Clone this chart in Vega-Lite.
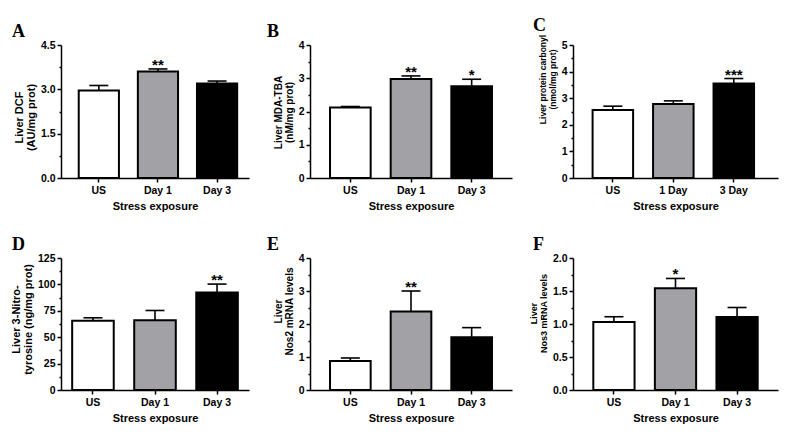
{
  "$schema": "https://vega.github.io/schema/vega-lite/v6.json",
  "padding": {"left": 10, "top": 17, "right": 5, "bottom": 5},
  "background": "white",
  "data": {"values": [
    {"panel": "A", "group": "US", "mean": 2.96, "upper": 3.13, "star": ""},
    {"panel": "A", "group": "Day 1", "mean": 3.60, "upper": 3.69, "star": "**"},
    {"panel": "A", "group": "Day 3", "mean": 3.20, "upper": 3.28, "star": ""},
    {"panel": "B", "group": "US", "mean": 2.12, "upper": 2.15, "star": ""},
    {"panel": "B", "group": "Day 1", "mean": 2.98, "upper": 3.07, "star": "**"},
    {"panel": "B", "group": "Day 3", "mean": 2.76, "upper": 2.97, "star": "*"},
    {"panel": "C", "group": "US", "mean": 2.56, "upper": 2.70, "star": ""},
    {"panel": "C", "group": "1 Day", "mean": 2.78, "upper": 2.90, "star": ""},
    {"panel": "C", "group": "3 Day", "mean": 3.55, "upper": 3.74, "star": "***"},
    {"panel": "D", "group": "US", "mean": 65.5, "upper": 68.4, "star": ""},
    {"panel": "D", "group": "Day 1", "mean": 66.1, "upper": 75.3, "star": ""},
    {"panel": "D", "group": "Day 3", "mean": 92.4, "upper": 100.3, "star": "**"},
    {"panel": "E", "group": "US", "mean": 0.88, "upper": 0.97, "star": ""},
    {"panel": "E", "group": "Day 1", "mean": 2.38, "upper": 3.00, "star": "**"},
    {"panel": "E", "group": "Day 3", "mean": 1.60, "upper": 1.89, "star": ""},
    {"panel": "F", "group": "US", "mean": 1.03, "upper": 1.11, "star": ""},
    {"panel": "F", "group": "Day 1", "mean": 1.54, "upper": 1.69, "star": "*"},
    {"panel": "F", "group": "Day 3", "mean": 1.105, "upper": 1.25, "star": ""}
  ]},
  "bounds": "flush",
  "align": "each",
  "columns": 3,
  "spacing": {"row": 80, "column": 61},
  "concat": [
    {
      "width": 188, "height": 133,
      "title": {"text": "A", "dx": -49, "offset": -1},
      "transform": [{"filter": "datum.panel == 'A'"}],
      "resolve": {"axis": {"y": "independent"}},
      "encoding": {"x": {"field": "group", "type": "nominal", "sort": ["US", "Day 1", "Day 3"], "scale": {"paddingInner": 0.32, "paddingOuter": 0.25, "align": 0.6}, "axis": {"title": "Stress exposure"}}},
      "layer": [
        {"mark": {"type": "bar", "stroke": "black", "strokeWidth": 2}, "encoding": {
          "y": {"field": "mean", "type": "quantitative", "scale": {"domain": [0, 4.5], "nice": false}, "axis": {"title": ["Liver DCF", "(AU/mg prot)"], "titleFontSize": 11, "titleLineHeight": 11.5, "titleY": 72, "orient": "left", "values": [0, 1.5, 3, 4.5], "format": ".1f"}},
          "fill": {"field": "group", "type": "nominal", "scale": {"domain": ["US", "Day 1", "Day 3", "1 Day", "3 Day"], "range": ["white", "#a2a2a6", "black", "#a2a2a6", "black"]}, "legend": null}}},
        {"mark": {"type": "rule", "strokeWidth": 1.6, "color": "black"}, "encoding": {"y": {"field": "mean", "type": "quantitative", "axis": {"orient": "left", "title": null, "labels": false, "domain": false, "tickSize": 2, "values": [0.75, 2.25, 3.75]}}, "y2": {"field": "upper"}}},
        {"mark": {"type": "tick", "thickness": 1.6, "size": 19, "color": "black", "opacity": 1}, "encoding": {"y": {"field": "upper", "type": "quantitative", "axis": null}}},
        {"mark": {"type": "text", "fontSize": 15, "fontWeight": "bold", "baseline": "alphabetic", "dy": 1, "color": "black"}, "encoding": {"y": {"field": "upper", "type": "quantitative", "axis": null}, "text": {"field": "star"}}}
      ]
    },
    {
      "width": 202, "height": 133,
      "title": {"text": "B", "dx": -43, "offset": -1},
      "transform": [{"filter": "datum.panel == 'B'"}],
      "resolve": {"axis": {"y": "independent"}},
      "encoding": {"x": {"field": "group", "type": "nominal", "sort": ["US", "Day 1", "Day 3"], "scale": {"paddingInner": 0.33, "paddingOuter": 0.33}, "axis": {"title": "Stress exposure"}}},
      "layer": [
        {"mark": {"type": "bar", "stroke": "black", "strokeWidth": 2}, "encoding": {
          "y": {"field": "mean", "type": "quantitative", "scale": {"domain": [0, 4], "nice": false}, "axis": {"title": ["Liver MDA-TBA", "(nM/mg prot)"], "titleFontSize": 10, "titleLineHeight": 11, "titleY": 67, "orient": "left", "values": [0, 1, 2, 3, 4], "format": "d"}},
          "fill": {"field": "group", "type": "nominal", "scale": {"domain": ["US", "Day 1", "Day 3", "1 Day", "3 Day"], "range": ["white", "#a2a2a6", "black", "#a2a2a6", "black"]}, "legend": null}}},
        {"mark": {"type": "rule", "strokeWidth": 1.6, "color": "black"}, "encoding": {"y": {"field": "mean", "type": "quantitative", "axis": {"orient": "left", "title": null, "labels": false, "domain": false, "tickSize": 2, "values": [0.5, 1.5, 2.5, 3.5]}}, "y2": {"field": "upper"}}},
        {"mark": {"type": "tick", "thickness": 1.6, "size": 19, "color": "black", "opacity": 1}, "encoding": {"y": {"field": "upper", "type": "quantitative", "axis": null}}},
        {"mark": {"type": "text", "fontSize": 15, "fontWeight": "bold", "baseline": "alphabetic", "dy": 1, "color": "black"}, "encoding": {"y": {"field": "upper", "type": "quantitative", "axis": null}, "text": {"field": "star"}}}
      ]
    },
    {
      "width": 205, "height": 133,
      "title": {"text": "C", "dx": -40, "offset": -1},
      "transform": [{"filter": "datum.panel == 'C'"}],
      "resolve": {"axis": {"y": "independent"}},
      "encoding": {"x": {"field": "group", "type": "nominal", "sort": ["US", "1 Day", "3 Day"], "scale": {"paddingInner": 0.33, "paddingOuter": 0.36, "align": 0.45}, "axis": {"title": "Stress exposure"}}},
      "layer": [
        {"mark": {"type": "bar", "stroke": "black", "strokeWidth": 2}, "encoding": {
          "y": {"field": "mean", "type": "quantitative", "scale": {"domain": [0, 5], "nice": false}, "axis": {"title": ["Liver protein carbonyl", "(nmol/mg prot)"], "titleFontSize": 8.5, "titleLineHeight": 10, "titleY": 34, "orient": "left", "values": [0, 1, 2, 3, 4, 5], "format": "d"}},
          "fill": {"field": "group", "type": "nominal", "scale": {"domain": ["US", "Day 1", "Day 3", "1 Day", "3 Day"], "range": ["white", "#a2a2a6", "black", "#a2a2a6", "black"]}, "legend": null}}},
        {"mark": {"type": "rule", "strokeWidth": 1.6, "color": "black"}, "encoding": {"y": {"field": "mean", "type": "quantitative", "axis": {"orient": "left", "title": null, "labels": false, "domain": false, "tickSize": 2, "values": [0.5, 1.5, 2.5, 3.5, 4.5]}}, "y2": {"field": "upper"}}},
        {"mark": {"type": "tick", "thickness": 1.6, "size": 19, "color": "black", "opacity": 1}, "encoding": {"y": {"field": "upper", "type": "quantitative", "axis": null}}},
        {"mark": {"type": "text", "fontSize": 15, "fontWeight": "bold", "baseline": "alphabetic", "dy": 1, "color": "black"}, "encoding": {"y": {"field": "upper", "type": "quantitative", "axis": null}, "text": {"field": "star"}}}
      ]
    },
    {
      "width": 188, "height": 132,
      "title": {"text": "D", "dx": -49, "offset": -1},
      "transform": [{"filter": "datum.panel == 'D'"}],
      "resolve": {"axis": {"y": "independent"}},
      "encoding": {"x": {"field": "group", "type": "nominal", "sort": ["US", "Day 1", "Day 3"], "scale": {"paddingInner": 0.33, "paddingOuter": 0.18}, "axis": {"title": "Stress exposure"}}},
      "layer": [
        {"mark": {"type": "bar", "stroke": "black", "strokeWidth": 2}, "encoding": {
          "y": {"field": "mean", "type": "quantitative", "scale": {"domain": [0, 125], "nice": false}, "axis": {"title": ["Liver 3-Nitro-", "tyrosine (ng/mg prot)"], "titleFontSize": 11, "titleLineHeight": 11.5, "titleY": 61, "orient": "left", "values": [0, 25, 50, 75, 100, 125], "format": "d"}},
          "fill": {"field": "group", "type": "nominal", "scale": {"domain": ["US", "Day 1", "Day 3", "1 Day", "3 Day"], "range": ["white", "#a2a2a6", "black", "#a2a2a6", "black"]}, "legend": null}}},
        {"mark": {"type": "rule", "strokeWidth": 1.6, "color": "black"}, "encoding": {"y": {"field": "mean", "type": "quantitative", "axis": {"orient": "left", "title": null, "labels": false, "domain": false, "tickSize": 2, "values": [12.5, 37.5, 62.5, 87.5, 112.5]}}, "y2": {"field": "upper"}}},
        {"mark": {"type": "tick", "thickness": 1.6, "size": 19, "color": "black", "opacity": 1}, "encoding": {"y": {"field": "upper", "type": "quantitative", "axis": null}}},
        {"mark": {"type": "text", "fontSize": 15, "fontWeight": "bold", "baseline": "alphabetic", "dy": 1, "color": "black"}, "encoding": {"y": {"field": "upper", "type": "quantitative", "axis": null}, "text": {"field": "star"}}}
      ]
    },
    {
      "width": 202, "height": 132,
      "title": {"text": "E", "dx": -43, "offset": -1},
      "transform": [{"filter": "datum.panel == 'E'"}],
      "resolve": {"axis": {"y": "independent"}},
      "encoding": {"x": {"field": "group", "type": "nominal", "sort": ["US", "Day 1", "Day 3"], "scale": {"paddingInner": 0.33, "paddingOuter": 0.33}, "axis": {"title": "Stress exposure"}}},
      "layer": [
        {"mark": {"type": "bar", "stroke": "black", "strokeWidth": 2}, "encoding": {
          "y": {"field": "mean", "type": "quantitative", "scale": {"domain": [0, 4], "nice": false}, "axis": {"title": ["Liver", "Nos2 mRNA levels"], "titleFontSize": 10, "titleLineHeight": 11, "titleY": 53, "orient": "left", "values": [0, 1, 2, 3, 4], "format": "d"}},
          "fill": {"field": "group", "type": "nominal", "scale": {"domain": ["US", "Day 1", "Day 3", "1 Day", "3 Day"], "range": ["white", "#a2a2a6", "black", "#a2a2a6", "black"]}, "legend": null}}},
        {"mark": {"type": "rule", "strokeWidth": 1.6, "color": "black"}, "encoding": {"y": {"field": "mean", "type": "quantitative", "axis": {"orient": "left", "title": null, "labels": false, "domain": false, "tickSize": 2, "values": [0.5, 1.5, 2.5, 3.5]}}, "y2": {"field": "upper"}}},
        {"mark": {"type": "tick", "thickness": 1.6, "size": 19, "color": "black", "opacity": 1}, "encoding": {"y": {"field": "upper", "type": "quantitative", "axis": null}}},
        {"mark": {"type": "text", "fontSize": 15, "fontWeight": "bold", "baseline": "alphabetic", "dy": 1, "color": "black"}, "encoding": {"y": {"field": "upper", "type": "quantitative", "axis": null}, "text": {"field": "star"}}}
      ]
    },
    {
      "width": 205, "height": 132,
      "title": {"text": "F", "dx": -40, "offset": -1},
      "transform": [{"filter": "datum.panel == 'F'"}],
      "resolve": {"axis": {"y": "independent"}},
      "encoding": {"x": {"field": "group", "type": "nominal", "sort": ["US", "Day 1", "Day 3"], "scale": {"paddingInner": 0.33, "paddingOuter": 0.33}, "axis": {"title": "Stress exposure"}}},
      "layer": [
        {"mark": {"type": "bar", "stroke": "black", "strokeWidth": 2}, "encoding": {
          "y": {"field": "mean", "type": "quantitative", "scale": {"domain": [0, 2], "nice": false}, "axis": {"title": ["Liver", "Nos3 mRNA levels"], "titleFontSize": 9, "titleLineHeight": 10, "titleY": 55, "orient": "left", "values": [0, 0.5, 1, 1.5, 2], "format": ".1f"}},
          "fill": {"field": "group", "type": "nominal", "scale": {"domain": ["US", "Day 1", "Day 3", "1 Day", "3 Day"], "range": ["white", "#a2a2a6", "black", "#a2a2a6", "black"]}, "legend": null}}},
        {"mark": {"type": "rule", "strokeWidth": 1.6, "color": "black"}, "encoding": {"y": {"field": "mean", "type": "quantitative", "axis": {"orient": "left", "title": null, "labels": false, "domain": false, "tickSize": 2, "values": [0.25, 0.75, 1.25, 1.75]}}, "y2": {"field": "upper"}}},
        {"mark": {"type": "tick", "thickness": 1.6, "size": 19, "color": "black", "opacity": 1}, "encoding": {"y": {"field": "upper", "type": "quantitative", "axis": null}}},
        {"mark": {"type": "text", "fontSize": 15, "fontWeight": "bold", "baseline": "alphabetic", "dy": 1, "color": "black"}, "encoding": {"y": {"field": "upper", "type": "quantitative", "axis": null}, "text": {"field": "star"}}}
      ]
    }
  ],
  "config": {
    "view": {"stroke": null},
    "font": "Liberation Sans",
    "axis": {"domainColor": "black", "domainWidth": 1.5, "tickColor": "black", "tickWidth": 1.5, "labelColor": "black", "titleColor": "black", "labelFont": "Liberation Sans", "labelFontWeight": "bold", "labelFontSize": 10.5, "titleFont": "Liberation Sans", "titleFontWeight": "bold", "grid": false, "labelOverlap": false},
    "axisX": {"labelAngle": 0, "tickSize": 4, "labelPadding": 3, "titleFontSize": 11, "titlePadding": 5},
    "axisY": {"titleFontSize": 9.5, "titleLineHeight": 10.5, "labelPadding": 2, "titlePadding": 4, "tickSize": 4},
    "title": {"font": "Liberation Serif", "fontSize": 18, "fontWeight": "bold", "anchor": "start", "frame": "group", "color": "black", "baseline": "alphabetic"}
  }
}
